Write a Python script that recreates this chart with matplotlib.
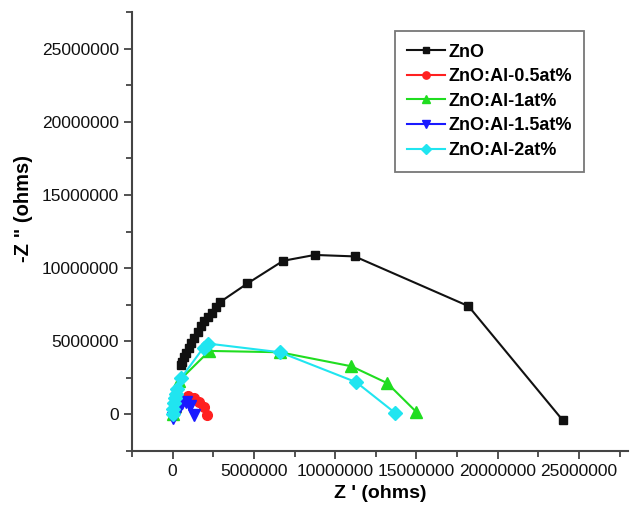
import matplotlib
matplotlib.use("Agg")
import matplotlib.pyplot as plt
from matplotlib.ticker import MultipleLocator

plt.rcParams['font.family'] = ['Liberation Sans', 'DejaVu Sans']

# Nyquist data (ohms)
zno_x = [0.49e6, 0.55e6, 0.67e6, 0.84e6, 1.00e6, 1.16e6, 1.34e6, 1.55e6, 1.75e6, 1.91e6,
         2.16e6, 2.40e6, 2.67e6, 2.93e6, 4.6e6, 6.8e6, 8.74e6, 11.2e6, 18.2e6, 24.0e6]
zno_y = [3.36e6, 3.58e6, 3.92e6, 4.20e6, 4.54e6, 4.88e6, 5.25e6, 5.64e6, 6.03e6, 6.37e6,
         6.66e6, 6.94e6, 7.35e6, 7.69e6, 8.95e6, 10.5e6, 10.9e6, 10.8e6, 7.4e6, -0.4e6]

al05_x = [0.2e6, 0.4e6, 0.63e6, 0.94e6, 1.30e6, 1.65e6, 1.91e6, 2.12e6]
al05_y = [0.3e6, 0.8e6, 1.07e6, 1.23e6, 1.14e6, 0.84e6, 0.50e6, -0.07e6]

al1_x = [0.0, 0.15e6, 0.4e6, 2.26e6, 6.6e6, 11.0e6, 13.2e6, 15.0e6]
al1_y = [0.05e6, 0.6e6, 2.3e6, 4.34e6, 4.25e6, 3.29e6, 2.14e6, 0.16e6]

al15_x = [0.02e6, 0.3e6, 0.55e6, 0.84e6, 1.05e6, 1.34e6]
al15_y = [-0.27e6, 0.3e6, 0.75e6, 0.84e6, 0.55e6, -0.07e6]

al2_x = [0.0, 0.05e6, 0.1e6, 0.15e6, 0.2e6, 0.27e6, 0.53e6, 1.9e6, 2.2e6, 6.6e6, 11.3e6, 13.7e6]
al2_y = [0.05e6, 0.4e6, 0.8e6, 1.1e6, 1.4e6, 1.76e6, 2.5e6, 4.57e6, 4.84e6, 4.25e6, 2.2e6, 0.09e6]

ticks = [0, 5e6, 10e6, 15e6, 20e6, 25e6]
tick_labels = ['0', '5000000', '10000000', '15000000', '20000000', '25000000']

fig = plt.figure(figsize=(6.3, 5.11), dpi=100)
ax = fig.add_axes([0.2095, 0.1174, 0.787, 0.859])

ax.plot(zno_x, zno_y, color='#111111', marker='s', ms=6, lw=1.5, label='ZnO')
ax.plot(al05_x, al05_y, color='#ff2020', marker='o', ms=7, lw=1.5, label='ZnO:Al-0.5at%')
ax.plot(al1_x, al1_y, color='#20dd20', marker='^', ms=8, lw=1.5, label='ZnO:Al-1at%')
ax.plot(al15_x, al15_y, color='#1a1aff', marker='v', ms=8, lw=1.5, label='ZnO:Al-1.5at%')
ax.plot(al2_x, al2_y, color='#20e5f0', marker='D', ms=7, lw=1.5, label='ZnO:Al-2at%')

ax.set_xlim(-2.5e6, 28e6)
ax.set_ylim(-2.5e6, 27.5e6)
ax.xaxis.set_minor_locator(MultipleLocator(2.5e6))
ax.yaxis.set_minor_locator(MultipleLocator(2.5e6))
ax.set_xticks(ticks)
ax.set_yticks(ticks)
ax.set_xticklabels(tick_labels)
ax.set_yticklabels(tick_labels)

for s in ['top', 'right']:
    ax.spines[s].set_visible(False)
for s in ['left', 'bottom']:
    ax.spines[s].set_color('#444444')
    ax.spines[s].set_linewidth(1.5)
ax.tick_params(which='both', direction='out', color='#444444', width=1.3,
               labelsize=12.5, labelcolor='#111111')
ax.tick_params(which='major', length=6)
ax.tick_params(which='minor', length=4)

ax.set_xlabel("Z ' (ohms)", fontsize=14, fontweight='bold', labelpad=4)
ax.set_ylabel('-Z " (ohms)', fontsize=14.5, fontweight='bold')
ax.yaxis.set_label_coords(-0.2, 0.553)

leg = ax.legend(loc='upper left', bbox_to_anchor=(0.530, 0.957), borderaxespad=0,
                fancybox=False, edgecolor='#555555',
                prop={'weight': 'bold', 'size': 13},
                handlelength=2.1, handletextpad=0.15, borderpad=0.7,
                labelspacing=0.42, markerscale=0.75)
leg.get_frame().set_linewidth(1.3)

fig.savefig('out.png', dpi=100)
